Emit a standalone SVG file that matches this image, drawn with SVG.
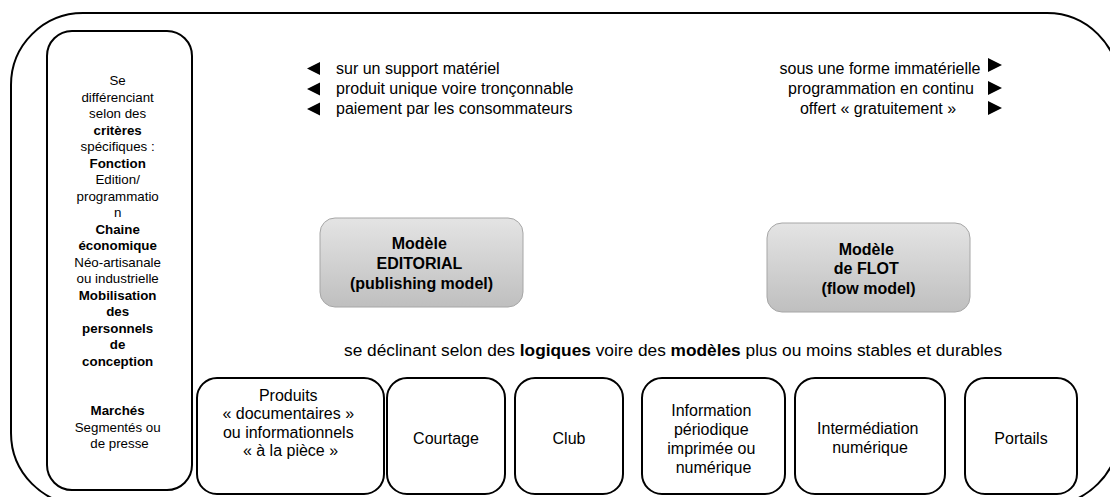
<svg xmlns="http://www.w3.org/2000/svg" width="1110" height="497" viewBox="0 0 1110 497">
<defs>
<linearGradient id="gray" x1="0" y1="0" x2="0" y2="1">
<stop offset="0" stop-color="#e4e4e4"/>
<stop offset="1" stop-color="#bfbfbf"/>
</linearGradient>
</defs>
<style>
text{font-family:"Liberation Sans",Arial,sans-serif;fill:#000}
.box{fill:#fff;stroke:#000;stroke-width:2}
.model{fill:url(#gray);stroke:#a6a6a6;stroke-width:1}
.s13{font-size:13.33px}
.s16{font-size:16px}
.s17{font-size:17.3px}
.b{font-weight:bold}
.c{text-anchor:middle}
.tri{fill:#000}
</style>
<rect id="outer" x="11" y="13" width="1108" height="492" rx="72" ry="72" fill="#fff" stroke="#000" stroke-width="2"/>

<g id="criteria">
<rect class="box" x="47" y="31" width="145" height="459" rx="25"/>
<text class="s13 c">
<tspan x="119.5" y="85">Se</tspan>
<tspan x="119.5" y="101.5">différenciant</tspan>
<tspan x="119.5" y="118">selon des</tspan>
<tspan x="119.5" y="134.5" class="b">critères</tspan>
<tspan x="119.5" y="151">spécifiques :</tspan>
<tspan x="119.5" y="167.5" class="b">Fonction</tspan>
<tspan x="119.5" y="184">Edition/</tspan>
<tspan x="119.5" y="200.5">programmatio</tspan>
<tspan x="119.5" y="217">n</tspan>
<tspan x="119.5" y="233.5" class="b">Chaine</tspan>
<tspan x="119.5" y="250" class="b">économique</tspan>
<tspan x="119.5" y="266.5">Néo-artisanale</tspan>
<tspan x="119.5" y="283">ou industrielle</tspan>
<tspan x="119.5" y="299.5" class="b">Mobilisation</tspan>
<tspan x="119.5" y="316" class="b">des</tspan>
<tspan x="119.5" y="332.5" class="b">personnels</tspan>
<tspan x="119.5" y="349" class="b">de</tspan>
<tspan x="119.5" y="365.5" class="b">conception</tspan>
<tspan x="119.5" y="415" class="b">Marchés</tspan>
<tspan x="119.5" y="431.5">Segmentés ou</tspan>
<tspan x="119.5" y="448">de presse</tspan>
</text>
</g>

<g id="editorial-traits">
<text class="s16" x="336" y="73.7">sur un support matériel</text>
<text class="s16" x="336" y="93.7">produit unique voire tronçonnable</text>
<text class="s16" x="336" y="113.7">paiement par les consommateurs</text>
</g>

<g id="flow-traits">
<text class="s16 c" x="880" y="73.7">sous une forme immatérielle</text>
<text class="s16 c" x="881" y="93.7">programmation en continu</text>
<text class="s16 c" x="878" y="113.7">offert « gratuitement »</text>
</g>

<g id="connectors">
<polygon class="tri" points="320,62 320,75 307,68.5"/>
<polygon class="tri" points="320,82.5 320,95.5 307,89"/>
<polygon class="tri" points="320,102.5 320,115.5 307,109"/>
<polygon class="tri" points="988,58 988,72 1002,65"/>
<polygon class="tri" points="988,81 988,95 1002,88"/>
<polygon class="tri" points="988,101 988,115 1002,108"/>
</g>

<g id="model-editorial">
<rect class="model" x="320" y="218" width="203" height="89" rx="15"/>
<text class="s16 b c">
<tspan x="421.5" y="248.7">Modèle</tspan>
<tspan x="421.5" y="268.7">EDITORIAL</tspan>
<tspan x="421.5" y="288.7">(publishing model)</tspan>
</text>
</g>

<g id="model-flot">
<rect class="model" x="767" y="223" width="203" height="89" rx="15"/>
<text class="s16 b c">
<tspan x="868.5" y="254.7">Modèle</tspan>
<tspan x="868.5" y="274.2">de FLOT</tspan>
<tspan x="868.5" y="293.7">(flow model)</tspan>
</text>
</g>

<g id="declinaison">
<text class="s17" x="344" y="356">se déclinant selon des <tspan class="b">logiques</tspan> voire des <tspan class="b">modèles</tspan> plus ou moins stables et durables</text>
</g>

<g id="produits">
<rect class="box" x="197" y="378" width="187" height="116" rx="20"/>
<text class="s16 c">
<tspan x="290.5" y="400.7">Produits</tspan>
<tspan x="290.5" y="419.2">« documentaires »</tspan>
<tspan x="290.5" y="437.7">ou informationnels</tspan>
<tspan x="290.5" y="456.2">« à la pièce »</tspan>
</text>
</g>

<g id="courtage">
<rect class="box" x="387" y="378" width="118" height="116" rx="20"/>
<text class="s16 c" x="446" y="443.7">Courtage</text>
</g>

<g id="club">
<rect class="box" x="515" y="378" width="108" height="116" rx="20"/>
<text class="s16 c" x="569" y="443.7">Club</text>
</g>

<g id="information">
<rect class="box" x="642" y="378" width="143" height="116" rx="20"/>
<text class="s16 c">
<tspan x="713.5" y="415.7">Information</tspan>
<tspan x="713.5" y="434.7">périodique</tspan>
<tspan x="713.5" y="453.7">imprimée ou</tspan>
<tspan x="713.5" y="472.7">numérique</tspan>
</text>
</g>

<g id="intermediation">
<rect class="box" x="795" y="378" width="150" height="116" rx="20"/>
<text class="s16 c">
<tspan x="870" y="433.7">Intermédiation</tspan>
<tspan x="870" y="453.2">numérique</tspan>
</text>
</g>

<g id="portails">
<rect class="box" x="965" y="378" width="112" height="116" rx="20"/>
<text class="s16 c" x="1021" y="443.7">Portails</text>
</g>
</svg>
